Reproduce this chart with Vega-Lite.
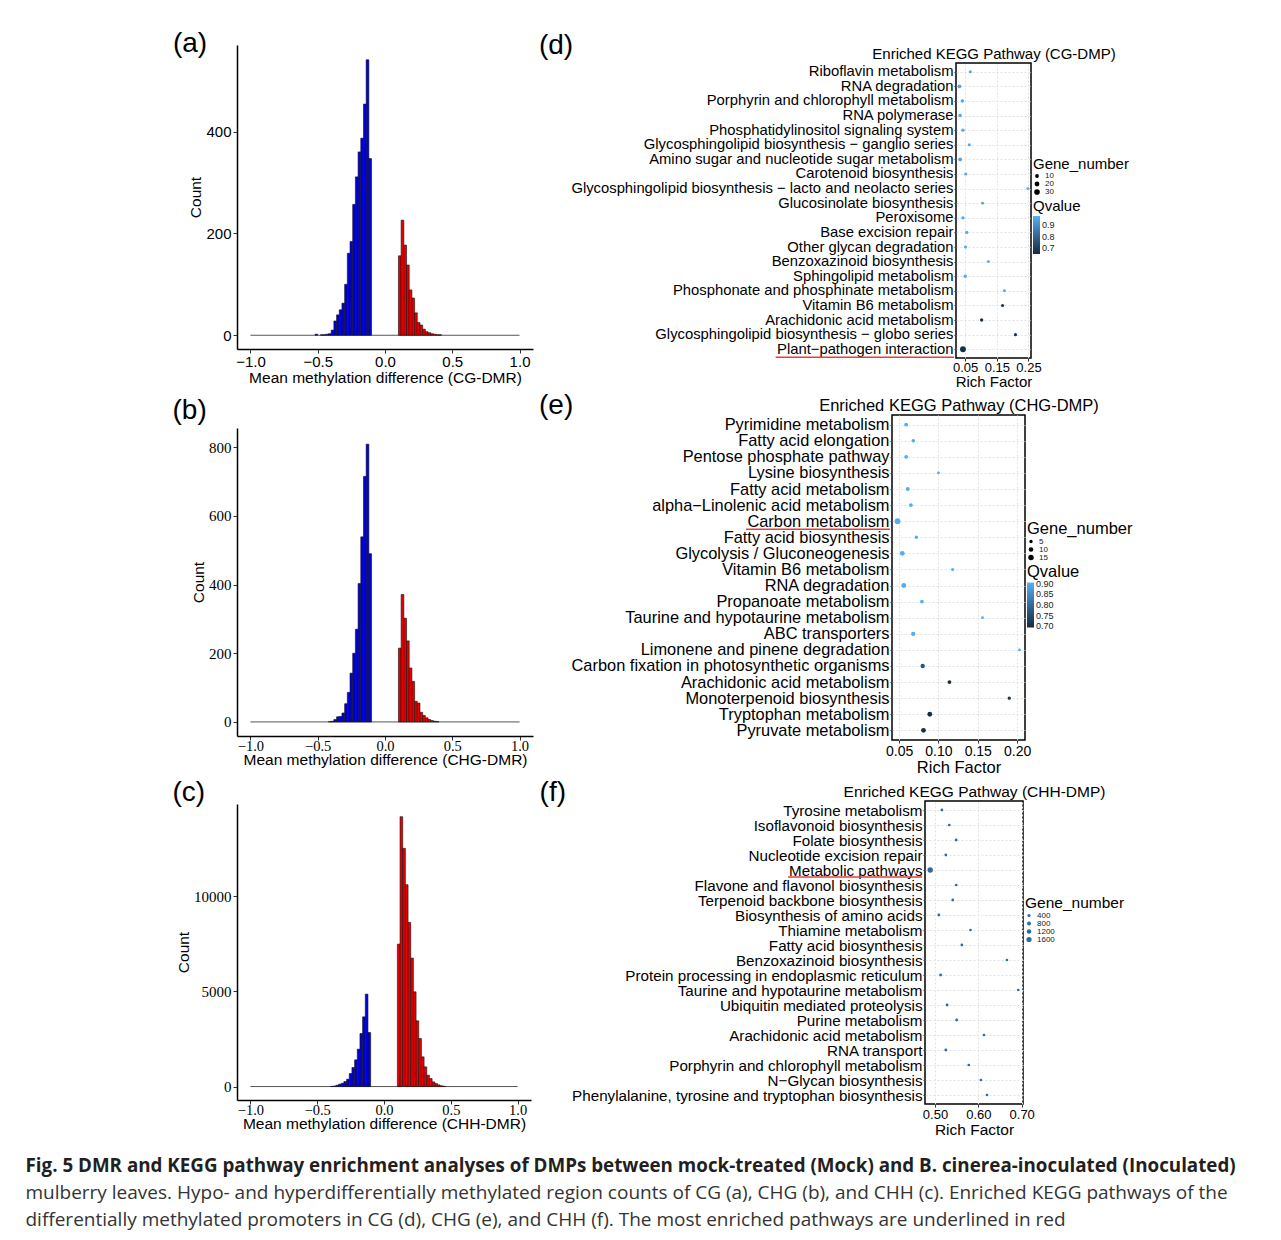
{
  "$schema": "https://vega.github.io/schema/vega-lite/v6.json",
  "padding": {"left": 25, "top": 17, "right": 5, "bottom": 5},
  "title": {
    "text": "Fig. 5 DMR and KEGG pathway enrichment analyses of DMPs between mock-treated (Mock) and B. cinerea-inoculated (Inoculated)",
    "subtitle": ["mulberry leaves. Hypo- and hyperdifferentially methylated region counts of CG (a), CHG (b), and CHH (c). Enriched KEGG pathways of the", "differentially methylated promoters in CG (d), CHG (e), and CHH (f). The most enriched pathways are underlined in red"],
    "orient": "bottom", "anchor": "start", "frame": "bounds", "dx": -147, "offset": 19,
    "font": "Open Sans", "fontSize": 18.8, "fontWeight": "bold", "color": "#231f20",
    "subtitleFont": "Open Sans", "subtitleFontSize": 19, "subtitleColor": "#333333", "subtitleLineHeight": 27, "subtitlePadding": 8
  },
  "spacing": 4,
  "resolve": {"scale": {"color": "independent", "size": "independent"}, "legend": {"color": "independent", "size": "independent"}},
  "hconcat": [
    {
      "spacing": 10,
      "vconcat": [
        {"width": 1, "height": 2.5, "data": {"values": [{}]}, "mark": {"type": "rect", "opacity": 0}, "encoding": {}},
        {
          "width": 296, "height": 304,
          "title": {"text": "(a)", "anchor": "start", "frame": "bounds", "fontSize": 28, "dx": -16, "offset": -13},
          "layer": [
            {
              "data": {"values": [{"start": -1, "end": 1, "count": 0}]},
              "mark": {"type": "rule", "color": "#555555", "strokeWidth": 1},
              "encoding": {
                "x": {"field": "start", "type": "quantitative", "scale": {"domain": [-1.1, 1.1], "nice": false}, "axis": {"title": "Mean methylation difference (CG-DMR)", "values": [-1, -0.5, 0, 0.5, 1], "format": ".1f", "labelFontSize": 15, "titleFontSize": 15.5, "grid": false, "tickSize": 4, "domainWidth": 1.5, "labelPadding": 1, "titlePadding": 1}},
                "x2": {"field": "end"},
                "y": {"field": "count", "type": "quantitative", "scale": {"domain": [-27, 570], "nice": false}, "axis": {"title": "Count", "values": [0, 200, 400], "labelFontSize": 15, "titleFontSize": 15.5, "grid": false, "tickSize": 4, "domainWidth": 1.5, "titlePadding": 2}}
              }
            },
            {
              "data": {"values": [
                {"start": -0.52, "end": -0.50, "count": 2, "group": "hypo"},
                {"start": -0.48, "end": -0.46, "count": 1, "group": "hypo"},
                {"start": -0.46, "end": -0.44, "count": 1, "group": "hypo"},
                {"start": -0.44, "end": -0.42, "count": 2, "group": "hypo"},
                {"start": -0.42, "end": -0.40, "count": 3, "group": "hypo"},
                {"start": -0.40, "end": -0.38, "count": 10, "group": "hypo"},
                {"start": -0.38, "end": -0.36, "count": 28, "group": "hypo"},
                {"start": -0.36, "end": -0.34, "count": 40, "group": "hypo"},
                {"start": -0.34, "end": -0.32, "count": 50, "group": "hypo"},
                {"start": -0.32, "end": -0.30, "count": 63, "group": "hypo"},
                {"start": -0.30, "end": -0.28, "count": 100, "group": "hypo"},
                {"start": -0.28, "end": -0.26, "count": 161, "group": "hypo"},
                {"start": -0.26, "end": -0.24, "count": 184, "group": "hypo"},
                {"start": -0.24, "end": -0.22, "count": 257, "group": "hypo"},
                {"start": -0.22, "end": -0.20, "count": 311, "group": "hypo"},
                {"start": -0.20, "end": -0.18, "count": 360, "group": "hypo"},
                {"start": -0.18, "end": -0.16, "count": 387, "group": "hypo"},
                {"start": -0.16, "end": -0.14, "count": 454, "group": "hypo"},
                {"start": -0.14, "end": -0.12, "count": 541, "group": "hypo"},
                {"start": -0.12, "end": -0.10, "count": 347, "group": "hypo"},
                {"start": 0.10, "end": 0.12, "count": 156, "group": "hyper"},
                {"start": 0.12, "end": 0.14, "count": 226, "group": "hyper"},
                {"start": 0.14, "end": 0.16, "count": 177, "group": "hyper"},
                {"start": 0.16, "end": 0.18, "count": 138, "group": "hyper"},
                {"start": 0.18, "end": 0.20, "count": 89, "group": "hyper"},
                {"start": 0.20, "end": 0.22, "count": 73, "group": "hyper"},
                {"start": 0.22, "end": 0.24, "count": 44, "group": "hyper"},
                {"start": 0.24, "end": 0.26, "count": 25, "group": "hyper"},
                {"start": 0.26, "end": 0.28, "count": 20, "group": "hyper"},
                {"start": 0.28, "end": 0.30, "count": 12, "group": "hyper"},
                {"start": 0.30, "end": 0.32, "count": 7, "group": "hyper"},
                {"start": 0.32, "end": 0.34, "count": 5, "group": "hyper"},
                {"start": 0.34, "end": 0.36, "count": 3, "group": "hyper"},
                {"start": 0.36, "end": 0.38, "count": 2, "group": "hyper"},
                {"start": 0.38, "end": 0.40, "count": 1, "group": "hyper"},
                {"start": 0.40, "end": 0.42, "count": 1, "group": "hyper"}
              ]},
              "mark": {"type": "rect", "stroke": "#111111", "strokeWidth": 0.6},
              "encoding": {
                "x": {"field": "start", "type": "quantitative"},
                "x2": {"field": "end"},
                "y": {"field": "count", "type": "quantitative"},
                "y2": {"datum": 0},
                "color": {"field": "group", "type": "nominal", "scale": {"domain": ["hypo", "hyper"], "range": ["#0000E0", "#E80000"]}, "legend": null}
              }
            }
          ]
        },
        {
          "width": 296, "height": 308,
          "title": {"text": "(b)", "anchor": "start", "frame": "bounds", "fontSize": 28, "dx": -19, "offset": 3.5},
          "layer": [
            {
              "data": {"values": [{"start": -1, "end": 1, "count": 0}]},
              "mark": {"type": "rule", "color": "#555555", "strokeWidth": 1},
              "encoding": {
                "x": {"field": "start", "type": "quantitative", "scale": {"domain": [-1.1, 1.1], "nice": false}, "axis": {"title": "Mean methylation difference (CHG-DMR)", "values": [-1, -0.5, 0, 0.5, 1], "format": ".1f", "labelFont": "Liberation Serif", "labelFontSize": 14.5, "titleFontSize": 15.5, "grid": false, "tickSize": 4, "domainWidth": 1.5, "labelPadding": -1, "titlePadding": 0}},
                "x2": {"field": "end"},
                "y": {"field": "count", "type": "quantitative", "scale": {"domain": [-41, 856], "nice": false}, "axis": {"title": "Count", "values": [0, 200, 400, 600, 800], "labelFont": "Liberation Serif", "labelFontSize": 15, "titleFontSize": 15.5, "grid": false, "tickSize": 4, "domainWidth": 1.5, "titlePadding": 2}}
              }
            },
            {
              "data": {"values": [
                {"start": -0.42, "end": -0.40, "count": 1, "group": "hypo"},
                {"start": -0.40, "end": -0.38, "count": 2, "group": "hypo"},
                {"start": -0.38, "end": -0.36, "count": 7, "group": "hypo"},
                {"start": -0.36, "end": -0.34, "count": 15, "group": "hypo"},
                {"start": -0.34, "end": -0.32, "count": 16, "group": "hypo"},
                {"start": -0.32, "end": -0.30, "count": 26, "group": "hypo"},
                {"start": -0.30, "end": -0.28, "count": 53, "group": "hypo"},
                {"start": -0.28, "end": -0.26, "count": 86, "group": "hypo"},
                {"start": -0.26, "end": -0.24, "count": 142, "group": "hypo"},
                {"start": -0.24, "end": -0.22, "count": 200, "group": "hypo"},
                {"start": -0.22, "end": -0.20, "count": 270, "group": "hypo"},
                {"start": -0.20, "end": -0.18, "count": 403, "group": "hypo"},
                {"start": -0.18, "end": -0.16, "count": 539, "group": "hypo"},
                {"start": -0.16, "end": -0.14, "count": 715, "group": "hypo"},
                {"start": -0.14, "end": -0.12, "count": 809, "group": "hypo"},
                {"start": -0.12, "end": -0.10, "count": 490, "group": "hypo"},
                {"start": 0.10, "end": 0.12, "count": 215, "group": "hyper"},
                {"start": 0.12, "end": 0.14, "count": 371, "group": "hyper"},
                {"start": 0.14, "end": 0.16, "count": 302, "group": "hyper"},
                {"start": 0.16, "end": 0.18, "count": 236, "group": "hyper"},
                {"start": 0.18, "end": 0.20, "count": 157, "group": "hyper"},
                {"start": 0.20, "end": 0.22, "count": 118, "group": "hyper"},
                {"start": 0.22, "end": 0.24, "count": 60, "group": "hyper"},
                {"start": 0.24, "end": 0.26, "count": 55, "group": "hyper"},
                {"start": 0.26, "end": 0.28, "count": 28, "group": "hyper"},
                {"start": 0.28, "end": 0.30, "count": 19, "group": "hyper"},
                {"start": 0.30, "end": 0.32, "count": 12, "group": "hyper"},
                {"start": 0.32, "end": 0.34, "count": 7, "group": "hyper"},
                {"start": 0.34, "end": 0.36, "count": 4, "group": "hyper"},
                {"start": 0.36, "end": 0.38, "count": 2, "group": "hyper"},
                {"start": 0.38, "end": 0.40, "count": 1, "group": "hyper"}
              ]},
              "mark": {"type": "rect", "stroke": "#111111", "strokeWidth": 0.6},
              "encoding": {
                "x": {"field": "start", "type": "quantitative"},
                "x2": {"field": "end"},
                "y": {"field": "count", "type": "quantitative"},
                "y2": {"datum": 0},
                "color": {"field": "group", "type": "nominal", "scale": {"domain": ["hypo", "hyper"], "range": ["#0000E0", "#E80000"]}, "legend": null}
              }
            }
          ]
        },
        {
          "width": 294, "height": 296,
          "title": {"text": "(c)", "anchor": "start", "frame": "bounds", "fontSize": 28, "dx": -4, "offset": -2.5},
          "layer": [
            {
              "data": {"values": [{"start": -1, "end": 1, "count": 0}]},
              "mark": {"type": "rule", "color": "#555555", "strokeWidth": 1},
              "encoding": {
                "x": {"field": "start", "type": "quantitative", "scale": {"domain": [-1.1, 1.1], "nice": false}, "axis": {"title": "Mean methylation difference (CHH-DMR)", "values": [-1, -0.5, 0, 0.5, 1], "format": ".1f", "labelFont": "Liberation Serif", "labelFontSize": 14.5, "titleFontSize": 15.5, "grid": false, "tickSize": 4, "domainWidth": 1.5, "labelPadding": -1, "titlePadding": 0}},
                "x2": {"field": "end"},
                "y": {"field": "count", "type": "quantitative", "scale": {"domain": [-707, 14857], "nice": false}, "axis": {"title": "Count", "values": [0, 5000, 10000], "format": "d", "labelFont": "Liberation Serif", "labelFontSize": 15, "titleFontSize": 15.5, "grid": false, "tickSize": 4, "domainWidth": 1.5, "titlePadding": 2}}
              }
            },
            {
              "data": {"values": [
                {"start": -0.40, "end": -0.38, "count": 10, "group": "hypo"},
                {"start": -0.38, "end": -0.36, "count": 30, "group": "hypo"},
                {"start": -0.36, "end": -0.34, "count": 70, "group": "hypo"},
                {"start": -0.34, "end": -0.32, "count": 123, "group": "hypo"},
                {"start": -0.32, "end": -0.30, "count": 175, "group": "hypo"},
                {"start": -0.30, "end": -0.28, "count": 263, "group": "hypo"},
                {"start": -0.28, "end": -0.26, "count": 386, "group": "hypo"},
                {"start": -0.26, "end": -0.24, "count": 684, "group": "hypo"},
                {"start": -0.24, "end": -0.22, "count": 1000, "group": "hypo"},
                {"start": -0.22, "end": -0.20, "count": 1403, "group": "hypo"},
                {"start": -0.20, "end": -0.18, "count": 1965, "group": "hypo"},
                {"start": -0.18, "end": -0.16, "count": 2789, "group": "hypo"},
                {"start": -0.16, "end": -0.14, "count": 3666, "group": "hypo"},
                {"start": -0.14, "end": -0.12, "count": 4859, "group": "hypo"},
                {"start": -0.12, "end": -0.10, "count": 2842, "group": "hypo"},
                {"start": 0.10, "end": 0.12, "count": 7490, "group": "hyper"},
                {"start": 0.12, "end": 0.14, "count": 14190, "group": "hyper"},
                {"start": 0.14, "end": 0.16, "count": 12524, "group": "hyper"},
                {"start": 0.16, "end": 0.18, "count": 10612, "group": "hyper"},
                {"start": 0.18, "end": 0.20, "count": 8630, "group": "hyper"},
                {"start": 0.20, "end": 0.22, "count": 6753, "group": "hyper"},
                {"start": 0.22, "end": 0.24, "count": 4981, "group": "hyper"},
                {"start": 0.24, "end": 0.26, "count": 3455, "group": "hyper"},
                {"start": 0.26, "end": 0.28, "count": 2526, "group": "hyper"},
                {"start": 0.28, "end": 0.30, "count": 1561, "group": "hyper"},
                {"start": 0.30, "end": 0.32, "count": 1035, "group": "hyper"},
                {"start": 0.32, "end": 0.34, "count": 596, "group": "hyper"},
                {"start": 0.34, "end": 0.36, "count": 421, "group": "hyper"},
                {"start": 0.36, "end": 0.38, "count": 246, "group": "hyper"},
                {"start": 0.38, "end": 0.40, "count": 158, "group": "hyper"},
                {"start": 0.40, "end": 0.42, "count": 88, "group": "hyper"},
                {"start": 0.42, "end": 0.44, "count": 40, "group": "hyper"},
                {"start": 0.44, "end": 0.46, "count": 15, "group": "hyper"}
              ]},
              "mark": {"type": "rect", "stroke": "#111111", "strokeWidth": 0.6},
              "encoding": {
                "x": {"field": "start", "type": "quantitative"},
                "x2": {"field": "end"},
                "y": {"field": "count", "type": "quantitative"},
                "y2": {"datum": 0},
                "color": {"field": "group", "type": "nominal", "scale": {"domain": ["hypo", "hyper"], "range": ["#0000E0", "#E80000"]}, "legend": null}
              }
            }
          ]
        }
      ]
    },
    {
      "spacing": 1,
      "resolve": {"scale": {"color": "independent", "size": "independent"}, "legend": {"color": "independent", "size": "independent"}},
      "vconcat": [
        {"width": 1, "height": 12.5, "data": {"values": [{}]}, "mark": {"type": "rect", "opacity": 0}, "encoding": {}},
        {
          "spacing": 0,
          "resolve": {"scale": {"color": "independent", "size": "independent"}, "legend": {"color": "independent", "size": "independent"}},
          "hconcat": [
            {"width": 1, "height": 1, "data": {"values": [{}]}, "mark": {"type": "rect", "opacity": 0}, "encoding": {}},
            {
              "width": 75, "height": 295,
              "view": {"stroke": "black", "strokeWidth": 1.5},
              "title": {"text": "(d)", "anchor": "start", "frame": "bounds", "fontSize": 28, "dx": -32, "offset": -14},
              "data": {"values": [
                {"pathway": "Riboflavin metabolism", "rich_factor": 0.066, "gene_number": 4, "qvalue": 0.96},
                {"pathway": "RNA degradation", "rich_factor": 0.032, "gene_number": 10, "qvalue": 0.95},
                {"pathway": "Porphyrin and chlorophyll metabolism", "rich_factor": 0.041, "gene_number": 6, "qvalue": 0.96},
                {"pathway": "RNA polymerase", "rich_factor": 0.034, "gene_number": 8, "qvalue": 0.96},
                {"pathway": "Phosphatidylinositol signaling system", "rich_factor": 0.043, "gene_number": 6, "qvalue": 0.96},
                {"pathway": "Glycosphingolipid biosynthesis − ganglio series", "rich_factor": 0.063, "gene_number": 4, "qvalue": 0.96},
                {"pathway": "Amino sugar and nucleotide sugar metabolism", "rich_factor": 0.034, "gene_number": 10, "qvalue": 0.95},
                {"pathway": "Carotenoid biosynthesis", "rich_factor": 0.052, "gene_number": 5, "qvalue": 0.96},
                {"pathway": "Glycosphingolipid biosynthesis − lacto and neolacto series", "rich_factor": 0.248, "gene_number": 3, "qvalue": 0.96},
                {"pathway": "Glucosinolate biosynthesis", "rich_factor": 0.105, "gene_number": 3, "qvalue": 0.96},
                {"pathway": "Peroxisome", "rich_factor": 0.043, "gene_number": 6, "qvalue": 0.96},
                {"pathway": "Base excision repair", "rich_factor": 0.055, "gene_number": 5, "qvalue": 0.96},
                {"pathway": "Other glycan degradation", "rich_factor": 0.051, "gene_number": 5, "qvalue": 0.96},
                {"pathway": "Benzoxazinoid biosynthesis", "rich_factor": 0.123, "gene_number": 3, "qvalue": 0.96},
                {"pathway": "Sphingolipid metabolism", "rich_factor": 0.05, "gene_number": 7, "qvalue": 0.96},
                {"pathway": "Phosphonate and phosphinate metabolism", "rich_factor": 0.174, "gene_number": 3, "qvalue": 0.96},
                {"pathway": "Vitamin B6 metabolism", "rich_factor": 0.168, "gene_number": 4, "qvalue": 0.67},
                {"pathway": "Arachidonic acid metabolism", "rich_factor": 0.102, "gene_number": 6, "qvalue": 0.66},
                {"pathway": "Glycosphingolipid biosynthesis − globo series", "rich_factor": 0.209, "gene_number": 4, "qvalue": 0.67},
                {"pathway": "Plant−pathogen interaction", "rich_factor": 0.043, "gene_number": 33, "qvalue": 0.66}
              ]},
              "layer": [
                {
                  "mark": {"type": "circle", "opacity": 1},
                  "encoding": {
                    "x": {"field": "rich_factor", "type": "quantitative", "scale": {"domain": [0.021, 0.258], "nice": false, "zero": false}, "axis": {"title": "Rich Factor", "values": [0.05, 0.15, 0.25], "format": ".2f", "labelFontSize": 13, "titleFontSize": 15, "grid": true, "gridDash": [2, 2], "gridColor": "#e2e2e2", "domain": false, "tickSize": 3, "labelPadding": 0, "titlePadding": 0}},
                    "y": {"field": "pathway", "type": "nominal", "sort": null, "scale": {"type": "point", "padding": 0.6}, "axis": {"title": null, "labelFontSize": 14.8, "labelLimit": 0, "grid": true, "gridDash": [2, 2], "gridColor": "#e2e2e2", "domain": false, "tickSize": 2, "labelPadding": 1}},
                    "size": {"field": "gene_number", "type": "quantitative", "scale": {"domain": [0, 33], "range": [6, 34]}, "legend": {"title": "Gene_number", "orient": "none", "legendX": 77, "legendY": 94, "values": [10, 20, 30], "titleFontSize": 15, "labelFontSize": 8, "symbolFillColor": "black", "symbolStrokeWidth": 0, "rowPadding": 0, "titlePadding": 0}},
                    "color": {"field": "qvalue", "type": "quantitative", "scale": {"domain": [0.65, 0.98], "range": ["#132B43", "#56B1F7"]}, "legend": {"title": "Qvalue", "orient": "none", "legendX": 77, "legendY": 136, "values": [0.7, 0.8, 0.9], "format": ".1f", "gradientLength": 38, "gradientThickness": 7, "titleFontSize": 15, "labelFontSize": 9, "titlePadding": 2}}
                  }
                },
                {
                  "mark": {"type": "circle", "opacity": 0},
                  "encoding": {
                    "x": {"field": "rich_factor", "type": "quantitative", "axis": {"orient": "top", "title": "Enriched KEGG Pathway (CG-DMP)", "labels": false, "ticks": false, "domain": false, "grid": false, "titleFontSize": 15, "titlePadding": 2}}
                  }
                },
                {
                  "data": {"values": [{"pathway": "Plant−pathogen interaction", "from": -0.549, "to": 0.015}]},
                  "mark": {"type": "rule", "color": "#E5403A", "strokeWidth": 1.5, "yOffset": 8, "clip": false},
                  "encoding": {
                    "x": {"field": "from", "type": "quantitative", "axis": null},
                    "x2": {"field": "to"},
                    "y": {"field": "pathway", "type": "nominal", "sort": null}
                  }
                }
              ],
              "resolve": {"axis": {"x": "independent"}}
            }
          ]
        },
        {
          "spacing": 0,
          "resolve": {"scale": {"color": "independent", "size": "independent"}, "legend": {"color": "independent", "size": "independent"}},
          "hconcat": [
            {"width": 1, "height": 1, "data": {"values": [{}]}, "mark": {"type": "rect", "opacity": 0}, "encoding": {}},
            {
              "width": 133, "height": 325,
              "view": {"stroke": "black", "strokeWidth": 1.5},
              "title": {"text": "(e)", "anchor": "start", "frame": "bounds", "fontSize": 28, "dx": -32, "offset": -23},
              "data": {"values": [
                {"pathway": "Pyrimidine metabolism", "rich_factor": 0.059, "gene_number": 7, "qvalue": 0.90},
                {"pathway": "Fatty acid elongation", "rich_factor": 0.068, "gene_number": 6, "qvalue": 0.90},
                {"pathway": "Pentose phosphate pathway", "rich_factor": 0.059, "gene_number": 7, "qvalue": 0.90},
                {"pathway": "Lysine biosynthesis", "rich_factor": 0.100, "gene_number": 3, "qvalue": 0.90},
                {"pathway": "Fatty acid metabolism", "rich_factor": 0.061, "gene_number": 7, "qvalue": 0.90},
                {"pathway": "alpha−Linolenic acid metabolism", "rich_factor": 0.065, "gene_number": 7, "qvalue": 0.90},
                {"pathway": "Carbon metabolism", "rich_factor": 0.048, "gene_number": 17, "qvalue": 0.90},
                {"pathway": "Fatty acid biosynthesis", "rich_factor": 0.072, "gene_number": 5, "qvalue": 0.90},
                {"pathway": "Glycolysis / Gluconeogenesis", "rich_factor": 0.054, "gene_number": 12, "qvalue": 0.90},
                {"pathway": "Vitamin B6 metabolism", "rich_factor": 0.118, "gene_number": 4, "qvalue": 0.90},
                {"pathway": "RNA degradation", "rich_factor": 0.056, "gene_number": 12, "qvalue": 0.90},
                {"pathway": "Propanoate metabolism", "rich_factor": 0.079, "gene_number": 6, "qvalue": 0.90},
                {"pathway": "Taurine and hypotaurine metabolism", "rich_factor": 0.156, "gene_number": 3, "qvalue": 0.90},
                {"pathway": "ABC transporters", "rich_factor": 0.068, "gene_number": 9, "qvalue": 0.90},
                {"pathway": "Limonene and pinene degradation", "rich_factor": 0.203, "gene_number": 3, "qvalue": 0.90},
                {"pathway": "Carbon fixation in photosynthetic organisms", "rich_factor": 0.080, "gene_number": 9, "qvalue": 0.77},
                {"pathway": "Arachidonic acid metabolism", "rich_factor": 0.114, "gene_number": 7, "qvalue": 0.70},
                {"pathway": "Monoterpenoid biosynthesis", "rich_factor": 0.190, "gene_number": 5, "qvalue": 0.71},
                {"pathway": "Tryptophan metabolism", "rich_factor": 0.089, "gene_number": 11, "qvalue": 0.70},
                {"pathway": "Pyruvate metabolism", "rich_factor": 0.081, "gene_number": 11, "qvalue": 0.70}
              ]},
              "layer": [
                {
                  "mark": {"type": "circle", "opacity": 1},
                  "encoding": {
                    "x": {"field": "rich_factor", "type": "quantitative", "scale": {"domain": [0.041, 0.210], "nice": false, "zero": false}, "axis": {"title": "Rich Factor", "values": [0.05, 0.10, 0.15, 0.20], "format": ".2f", "labelFontSize": 14, "titleFontSize": 16.5, "grid": true, "gridDash": [2, 2], "gridColor": "#e2e2e2", "domain": false, "tickSize": 3, "labelPadding": 1, "titlePadding": 1}},
                    "y": {"field": "pathway", "type": "nominal", "sort": null, "scale": {"type": "point", "padding": 0.6}, "axis": {"title": null, "labelFontSize": 16.4, "labelLimit": 0, "grid": true, "gridDash": [2, 2], "gridColor": "#e2e2e2", "domain": false, "tickSize": 2, "labelPadding": 1}},
                    "size": {"field": "gene_number", "type": "quantitative", "scale": {"domain": [0, 17], "range": [2, 34]}, "legend": {"title": "Gene_number", "orient": "none", "legendX": 135, "legendY": 106, "values": [5, 10, 15], "titleFontSize": 16.5, "labelFontSize": 8, "symbolFillColor": "black", "symbolStrokeWidth": 0, "rowPadding": 0, "titlePadding": 0}},
                    "color": {"field": "qvalue", "type": "quantitative", "scale": {"domain": [0.695, 0.905], "range": ["#132B43", "#56B1F7"]}, "legend": {"title": "Qvalue", "orient": "none", "legendX": 135, "legendY": 149, "values": [0.70, 0.75, 0.80, 0.85, 0.90], "format": ".2f", "gradientLength": 45, "gradientThickness": 7, "titleFontSize": 16.5, "labelFontSize": 9, "titlePadding": 2}}
                  }
                },
                {
                  "mark": {"type": "circle", "opacity": 0},
                  "encoding": {
                    "x": {"field": "rich_factor", "type": "quantitative", "axis": {"orient": "top", "title": "Enriched KEGG Pathway (CHG-DMP)", "labels": false, "ticks": false, "domain": false, "grid": false, "titleFontSize": 16.5, "titlePadding": 2}}
                  }
                },
                {
                  "data": {"values": [{"pathway": "Carbon metabolism", "from": -0.1445, "to": 0.0385}]},
                  "mark": {"type": "rule", "color": "#E5403A", "strokeWidth": 1.5, "yOffset": 8, "clip": false},
                  "encoding": {
                    "x": {"field": "from", "type": "quantitative", "axis": null},
                    "x2": {"field": "to"},
                    "y": {"field": "pathway", "type": "nominal", "sort": null}
                  }
                }
              ],
              "resolve": {"axis": {"x": "independent"}}
            }
          ]
        },
        {
          "spacing": 0,
          "resolve": {"scale": {"color": "independent", "size": "independent"}, "legend": {"color": "independent", "size": "independent"}},
          "hconcat": [
            {"width": 1, "height": 1, "data": {"values": [{}]}, "mark": {"type": "rect", "opacity": 0}, "encoding": {}},
            {
              "width": 98, "height": 303,
              "view": {"stroke": "black", "strokeWidth": 1.5},
              "title": {"text": "(f)", "anchor": "start", "frame": "bounds", "fontSize": 28, "dx": -32, "offset": -23},
              "data": {"values": [
                {"pathway": "Tyrosine metabolism", "rich_factor": 0.516, "gene_number": 250},
                {"pathway": "Isoflavonoid biosynthesis", "rich_factor": 0.533, "gene_number": 230},
                {"pathway": "Folate biosynthesis", "rich_factor": 0.549, "gene_number": 250},
                {"pathway": "Nucleotide excision repair", "rich_factor": 0.525, "gene_number": 250},
                {"pathway": "Metabolic pathways", "rich_factor": 0.489, "gene_number": 1750},
                {"pathway": "Flavone and flavonol biosynthesis", "rich_factor": 0.549, "gene_number": 230},
                {"pathway": "Terpenoid backbone biosynthesis", "rich_factor": 0.541, "gene_number": 250},
                {"pathway": "Biosynthesis of amino acids", "rich_factor": 0.509, "gene_number": 300},
                {"pathway": "Thiamine metabolism", "rich_factor": 0.582, "gene_number": 220},
                {"pathway": "Fatty acid biosynthesis", "rich_factor": 0.562, "gene_number": 250},
                {"pathway": "Benzoxazinoid biosynthesis", "rich_factor": 0.666, "gene_number": 200},
                {"pathway": "Protein processing in endoplasmic reticulum", "rich_factor": 0.513, "gene_number": 280},
                {"pathway": "Taurine and hypotaurine metabolism", "rich_factor": 0.692, "gene_number": 180},
                {"pathway": "Ubiquitin mediated proteolysis", "rich_factor": 0.528, "gene_number": 270},
                {"pathway": "Purine metabolism", "rich_factor": 0.550, "gene_number": 280},
                {"pathway": "Arachidonic acid metabolism", "rich_factor": 0.613, "gene_number": 200},
                {"pathway": "RNA transport", "rich_factor": 0.525, "gene_number": 300},
                {"pathway": "Porphyrin and chlorophyll metabolism", "rich_factor": 0.578, "gene_number": 220},
                {"pathway": "N−Glycan biosynthesis", "rich_factor": 0.606, "gene_number": 220},
                {"pathway": "Phenylalanine, tyrosine and tryptophan biosynthesis", "rich_factor": 0.620, "gene_number": 200}
              ]},
              "layer": [
                {
                  "mark": {"type": "circle", "opacity": 1, "color": "#2F6AA3"},
                  "encoding": {
                    "x": {"field": "rich_factor", "type": "quantitative", "scale": {"domain": [0.477, 0.703], "nice": false, "zero": false}, "axis": {"title": "Rich Factor", "values": [0.5, 0.6, 0.7], "format": ".2f", "labelFontSize": 13, "titleFontSize": 15.5, "grid": true, "gridDash": [2, 2], "gridColor": "#e2e2e2", "domain": false, "tickSize": 3, "labelPadding": 1, "titlePadding": 1}},
                    "y": {"field": "pathway", "type": "nominal", "sort": null, "scale": {"type": "point", "padding": 0.6}, "axis": {"title": null, "labelFontSize": 15.2, "labelLimit": 0, "grid": true, "gridDash": [2, 2], "gridColor": "#e2e2e2", "domain": false, "tickSize": 2, "labelPadding": 1}},
                    "size": {"field": "gene_number", "type": "quantitative", "scale": {"domain": [0, 1800], "range": [4, 30]}, "legend": {"title": "Gene_number", "orient": "none", "legendX": 100, "legendY": 95, "values": [400, 800, 1200, 1600], "format": "d", "titleFontSize": 15.5, "labelFontSize": 8, "symbolFillColor": "black", "symbolStrokeWidth": 0, "rowPadding": 0, "titlePadding": 0}}
                  }
                },
                {
                  "mark": {"type": "circle", "opacity": 0},
                  "encoding": {
                    "x": {"field": "rich_factor", "type": "quantitative", "axis": {"orient": "top", "title": "Enriched KEGG Pathway (CHH-DMP)", "labels": false, "ticks": false, "domain": false, "grid": false, "titleFontSize": 15.5, "titlePadding": 2}}
                  }
                },
                {
                  "data": {"values": [{"pathway": "Metabolic pathways", "from": 0.161, "to": 0.470}]},
                  "mark": {"type": "rule", "color": "#E5403A", "strokeWidth": 1.5, "yOffset": 7, "clip": false},
                  "encoding": {
                    "x": {"field": "from", "type": "quantitative", "axis": null},
                    "x2": {"field": "to"},
                    "y": {"field": "pathway", "type": "nominal", "sort": null}
                  }
                }
              ],
              "resolve": {"axis": {"x": "independent"}}
            }
          ]
        }
      ]
    }
  ],
  "config": {
    "view": {"stroke": null},
    "font": "Liberation Sans",
    "axis": {"labelColor": "black", "titleColor": "black", "titleFontWeight": "normal", "domainColor": "black", "tickColor": "#333333"},
    "legend": {"titleFontWeight": "normal", "titleColor": "black", "labelColor": "#222222"},
    "title": {"fontWeight": "normal", "color": "black"}
  }
}
